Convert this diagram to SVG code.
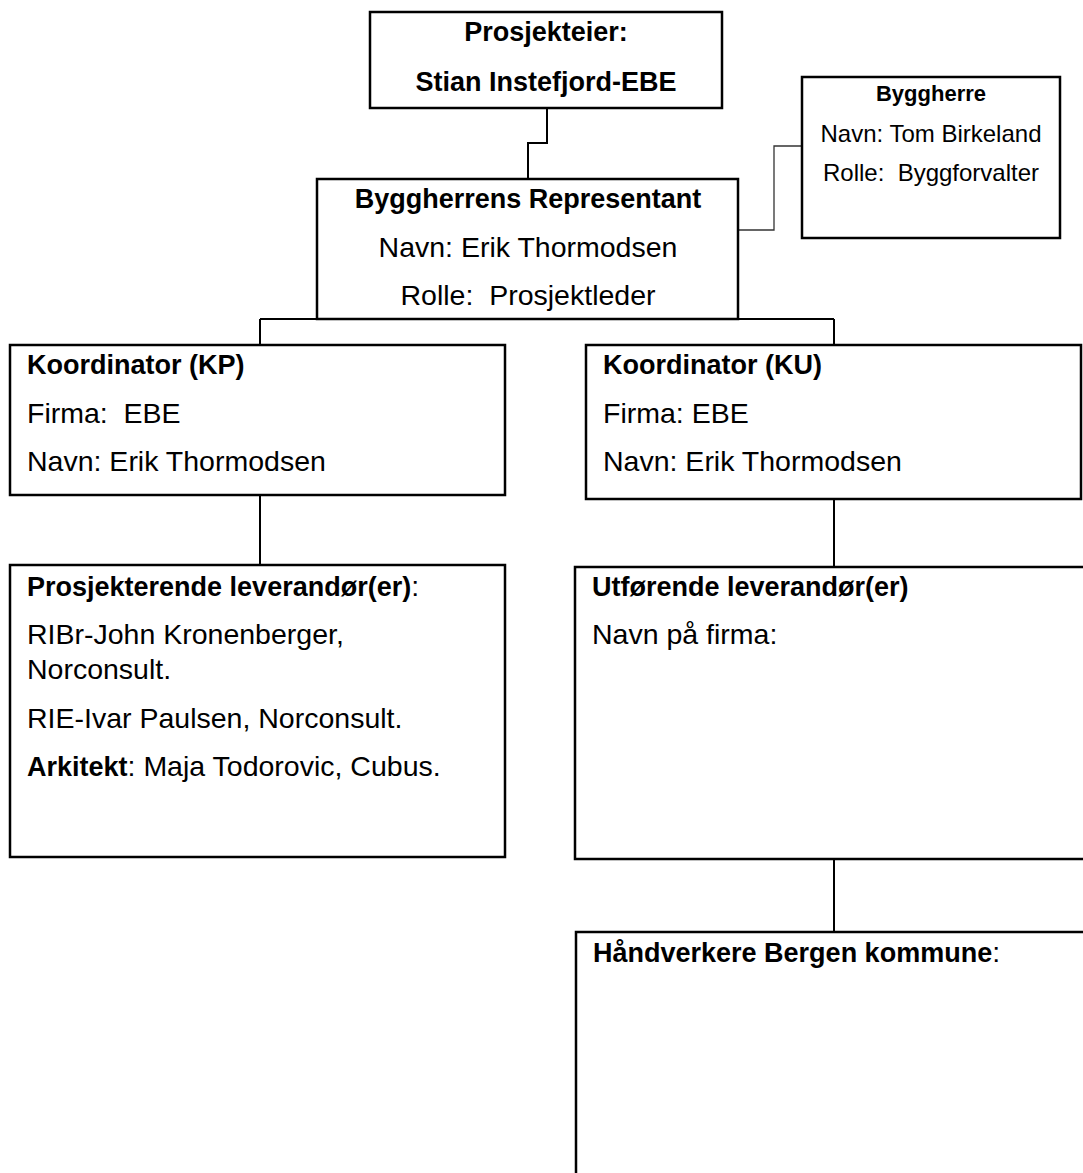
<svg xmlns="http://www.w3.org/2000/svg" width="1083" height="1173" viewBox="0 0 1083 1173">
<style>
.box{fill:#fff;stroke:#000;stroke-width:2.5}
.con{fill:none;stroke:#000;stroke-width:2}
.thin{fill:none;stroke:#333;stroke-width:1.3}
text{font-family:"Liberation Sans",Arial,sans-serif;fill:#000}
.b{font-weight:bold;font-size:27px}
.r{font-size:28.5px}
.sb{font-weight:bold;font-size:22px}
.sr{font-size:24px}
.c{text-anchor:middle}
</style>
<rect width="1083" height="1173" fill="#fff"/>
<g id="connectors">
<polyline class="con" points="547,108 547,143 528,143 528,179"/>
<polyline class="thin" points="738,230 774,230 774,146 802,146"/>
<line class="con" x1="260" y1="319" x2="834" y2="319"/>
<line class="con" x1="260" y1="319" x2="260" y2="345"/>
<line class="con" x1="834" y1="319" x2="834" y2="345"/>
<line class="con" x1="260" y1="495" x2="260" y2="565"/>
<line class="con" x1="834" y1="499" x2="834" y2="567"/>
<line class="con" x1="834" y1="859" x2="834" y2="932"/>
</g>
<g id="prosjekteier">
<rect class="box" x="370" y="12" width="352" height="96"/>
<text class="b c" x="546" y="41">Prosjekteier:</text>
<text class="b c" x="546" y="91">Stian Instefjord-EBE</text>
</g>
<g id="byggherrens-representant">
<rect class="box" x="317" y="179" width="421" height="140"/>
<text class="b c" x="528" y="208">Byggherrens Representant</text>
<text class="r c" x="528" y="257">Navn: Erik Thormodsen</text>
<text class="r c" x="528" y="305" xml:space="preserve">Rolle:  Prosjektleder</text>
</g>
<g id="byggherre">
<rect class="box" x="802" y="77" width="258" height="161"/>
<text class="sb c" x="931" y="101">Byggherre</text>
<text class="sr c" x="931" y="142">Navn: Tom Birkeland</text>
<text class="sr c" x="931" y="181" xml:space="preserve">Rolle:  Byggforvalter</text>
</g>
<g id="koordinator-kp">
<rect class="box" x="10" y="345" width="495" height="150"/>
<text class="b" x="27" y="374">Koordinator (KP)</text>
<text class="r" x="27" y="423" xml:space="preserve">Firma:  EBE</text>
<text class="r" x="27" y="471">Navn: Erik Thormodsen</text>
</g>
<g id="koordinator-ku">
<rect class="box" x="586" y="345" width="495" height="154"/>
<text class="b" x="603" y="374">Koordinator (KU)</text>
<text class="r" x="603" y="423">Firma: EBE</text>
<text class="r" x="603" y="471">Navn: Erik Thormodsen</text>
</g>
<g id="prosjekterende">
<rect class="box" x="10" y="565" width="495" height="292"/>
<text x="27" y="596"><tspan class="b">Prosjekterende leverandør(er)</tspan><tspan class="r">:</tspan></text>
<text class="r" x="27" y="644">RIBr-John Kronenberger,</text>
<text class="r" x="27" y="679">Norconsult.</text>
<text class="r" x="27" y="728">RIE-Ivar Paulsen, Norconsult.</text>
<text x="27" y="776"><tspan class="b">Arkitekt</tspan><tspan class="r">: Maja Todorovic, Cubus.</tspan></text>
</g>
<g id="utforende">
<rect class="box" x="575" y="567" width="520" height="292"/>
<text class="b" x="592" y="596">Utførende leverandør(er)</text>
<text class="r" x="592" y="644">Navn på firma:</text>
</g>
<g id="handverkere">
<rect class="box" x="576" y="932" width="520" height="260"/>
<text x="593" y="962"><tspan class="b">Håndverkere Bergen kommune</tspan><tspan class="r">:</tspan></text>
</g>
</svg>
